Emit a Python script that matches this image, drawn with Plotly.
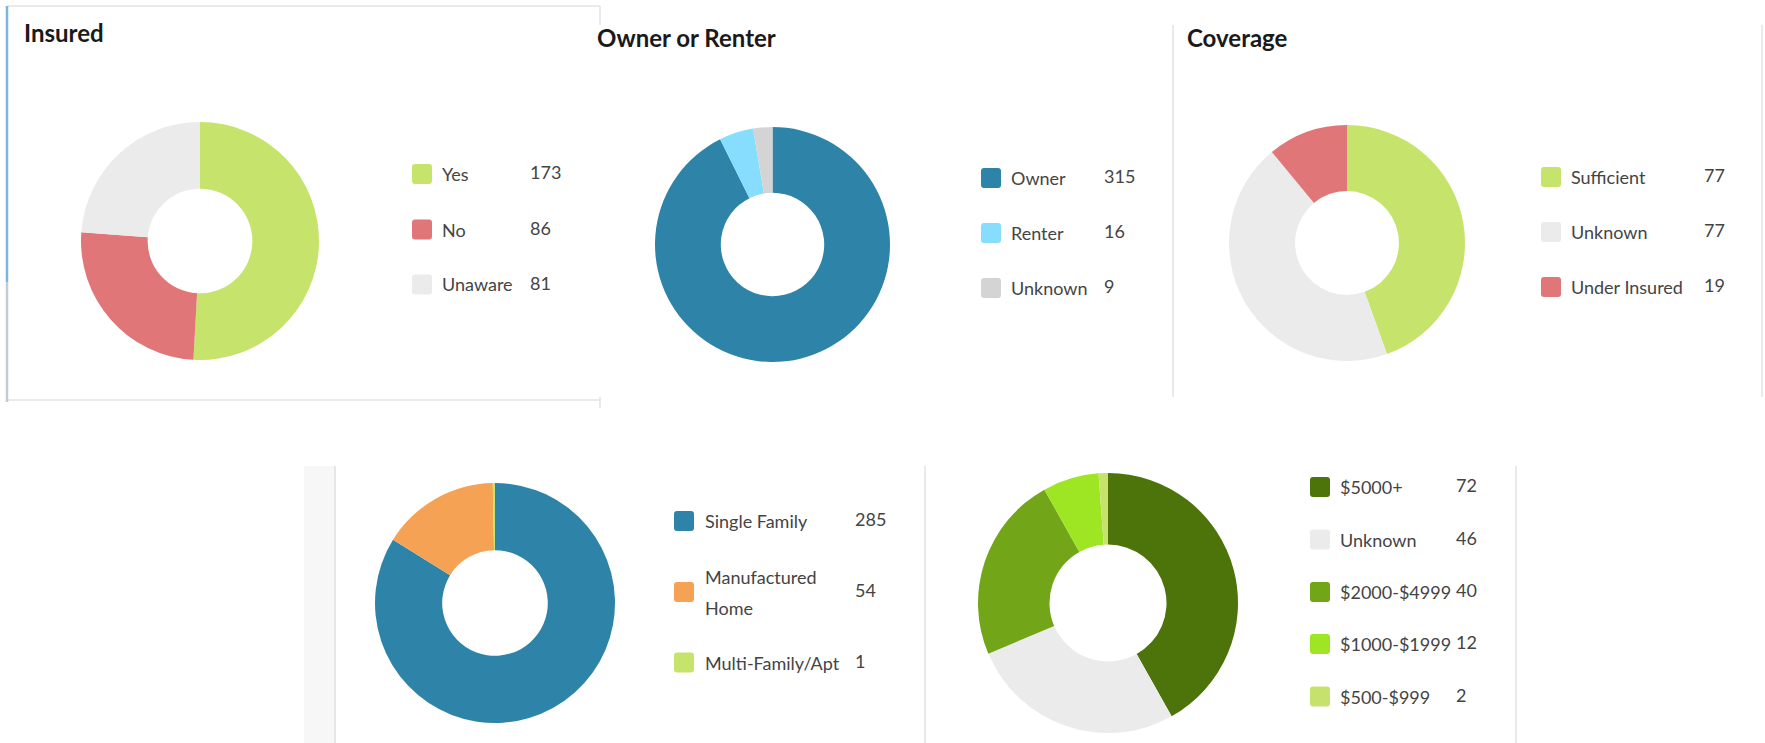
import plotly.graph_objects as go

W, H = 1765, 743

# ---------------- data ----------------
insured_labels = ["Yes", "No", "Unaware"]
insured_values = [173, 86, 81]
insured_colors = ["#c6e36b", "#e07678", "#ebebeb"]

owner_labels = ["Owner", "Renter", "Unknown"]
owner_values = [315, 16, 9]
owner_colors = ["#2e84a8", "#87ddfd", "#d4d4d4"]

coverage_labels = ["Sufficient", "Unknown", "Under Insured"]
coverage_values = [77, 77, 19]
coverage_colors = ["#c6e36b", "#ebebeb", "#e07678"]

property_labels = ["Single Family", "Manufactured Home", "Multi-Family/Apt"]
property_values = [285, 54, 1]
property_colors = ["#2e84a8", "#f5a254", "#c6e36b"]

damage_labels = ["$5000+", "Unknown", "$2000-$4999", "$1000-$1999", "$500-$999"]
damage_values = [72, 46, 40, 12, 2]
damage_colors = ["#4d730b", "#ebebeb", "#72a618", "#9ee624", "#c6e26c"]

titles = ["Insured", "Owner or Renter", "Coverage"]

# ---------------- layout helpers (pixel -> paper) ----------------
def px(x):
    return x / W

def py(y):
    return 1 - y / H

panels = [
    dict(labels=insured_labels, values=insured_values, colors=insured_colors,
         cx=200, cy=241, r=119, hole=0.44, sx=412, lx=440, vx=528, rows=[174, 229.5, 284.5], wrap={}),
    dict(labels=owner_labels, values=owner_values, colors=owner_colors,
         cx=772.5, cy=244.5, r=117.5, hole=0.44, sx=981, lx=1009, vx=1102, rows=[178, 233, 288], wrap={}),
    dict(labels=coverage_labels, values=coverage_values, colors=coverage_colors,
         cx=1347, cy=243, r=118, hole=0.44, sx=1541, lx=1569, vx=1702, rows=[177, 232, 287], wrap={}),
    dict(labels=property_labels, values=property_values, colors=property_colors,
         cx=495, cy=603, r=120, hole=0.44, sx=674, lx=703, vx=853, rows=[521, 592, 662.5],
         wrap={"Manufactured Home": ["Manufactured", "Home"]}),
    dict(labels=damage_labels, values=damage_values, colors=damage_colors,
         cx=1108, cy=603, r=130, hole=0.45, sx=1310, lx=1338, vx=1454,
         rows=[487, 539.5, 592, 644, 696.5], wrap={}),
]

fig = go.Figure()
shapes = []
annotations = []

TEXT_FONT = dict(family="Lato, 'Open Sans', sans-serif", size=18, color="#444444")

def rounded_rect(x0, y0, x1, y1, rad=3):
    X0, X1 = px(x0), px(x1)
    Y0, Y1 = py(y0), py(y1)
    rx, ry = rad / W, rad / H
    return (f"M {X0+rx},{Y0} L {X1-rx},{Y0} Q {X1},{Y0} {X1},{Y0-ry} "
            f"L {X1},{Y1+ry} Q {X1},{Y1} {X1-rx},{Y1} L {X0+rx},{Y1} "
            f"Q {X0},{Y1} {X0},{Y1+ry} L {X0},{Y0-ry} Q {X0},{Y0} {X0+rx},{Y0} Z")

for p in panels:
    fig.add_trace(go.Pie(
        labels=p["labels"], values=p["values"],
        marker=dict(colors=p["colors"], line=dict(width=0)),
        hole=p["hole"], sort=False, direction="clockwise", rotation=0,
        textinfo="none", showlegend=False,
        domain=dict(x=[px(p["cx"] - p["r"]), px(p["cx"] + p["r"])],
                    y=[py(p["cy"] + p["r"]), py(p["cy"] - p["r"])]),
    ))
    for lab, val, col, ry in zip(p["labels"], p["values"], p["colors"], p["rows"]):
        shapes.append(dict(type="path", xref="paper", yref="paper",
                           path=rounded_rect(p["sx"], ry - 10, p["sx"] + 20, ry + 10),
                           fillcolor=col, line=dict(width=0)))
        lines = p["wrap"].get(lab, [lab])
        n = len(lines)
        for i, t in enumerate(lines):
            yy = ry + (i - (n - 1) / 2) * 31
            annotations.append(dict(x=px(p["lx"]), y=py(yy), xref="paper", yref="paper",
                                    text=t, showarrow=False, xanchor="left", yanchor="middle",
                                    font=TEXT_FONT))
        annotations.append(dict(x=px(p["vx"]), y=py(ry - 2), xref="paper", yref="paper",
                                text=str(val), showarrow=False, xanchor="left", yanchor="middle",
                                font=TEXT_FONT))

# titles
for t, (tx, ty) in zip(titles, [(22, 33), (595, 38), (1185, 38)]):
    annotations.append(dict(x=px(tx), y=py(ty), xref="paper", yref="paper", text=f"<b>{t}</b>",
                            showarrow=False, xanchor="left", yanchor="middle",
                            font=dict(family="Lato, 'Open Sans', sans-serif", size=24, color="#1a1a1a")))

# panel frames
def line(x0, y0, x1, y1, color="#e3e3e3", width=1.5):
    shapes.append(dict(type="line", xref="paper", yref="paper",
                       x0=px(x0), y0=py(y0), x1=px(x1), y1=py(y1),
                       line=dict(color=color, width=width)))

line(7, 6, 600, 6)
line(7, 400, 600, 400)
line(600, 6, 600, 25)
line(600, 397, 600, 408)
line(7, 6, 7, 282, color="#7ab8e0", width=2.5)
line(7, 282, 7, 402, color="#c3cbd3", width=2.5)
line(1173, 25, 1173, 397)
line(1762, 25, 1762, 397)

shapes.append(dict(type="rect", xref="paper", yref="paper",
                   x0=px(304), x1=px(334), y0=py(466), y1=py(743),
                   fillcolor="#f7f7f7", line=dict(width=0)))
line(335, 466, 335, 743, color="#e6e6e6", width=2)
line(925, 466, 925, 743)
line(1516, 466, 1516, 743)

fig.update_layout(
    width=W, height=H,
    margin=dict(l=0, r=0, t=0, b=0),
    paper_bgcolor="white", plot_bgcolor="white",
    shapes=shapes, annotations=annotations,
    showlegend=False,
)

fig.write_html("out.html")
